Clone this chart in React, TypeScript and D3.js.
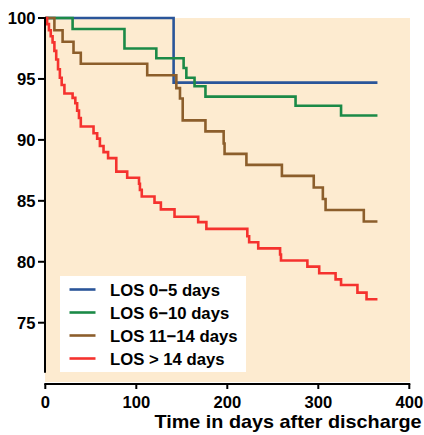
import React from "react";
import * as d3 from "d3";

const xTicks = [0, 100, 200, 300, 400];
const yTicks = [75, 80, 85, 90, 95, 100];
const seriesNames = ["LOS 0\u22125 days", "LOS 6\u221210 days", "LOS 11\u221214 days", "LOS > 14 days"];
const seriesColors = ["#2a5599", "#1b8a47", "#8c5e2b", "#f5322e"];

const blueDays = [0, 141, 365];
const blueVals = [100, 94.7, 94.7];
const greenDays = [0, 30, 87, 122, 152, 155, 164, 176, 275, 325, 365];
const greenVals = [100, 99.1, 97.5, 96.7, 95.9, 95.1, 94.4, 93.55, 92.8, 92.0, 92.0];
const brownDays = [0, 10, 19, 31, 39, 112, 144, 148, 151, 176, 196, 197, 221, 260, 295, 305, 308, 350, 365];
const brownVals = [100, 99.0, 98.05, 97.15, 96.25, 95.3, 94.25, 93.4, 91.6, 90.7, 89.7, 88.85, 87.95, 87.05, 86.1, 85.15, 84.25, 83.3, 83.3];
const redDays = [0, 2, 4, 6, 8, 10, 12, 14, 16, 18, 21, 30, 33, 35, 37, 39, 53, 57, 60, 64, 69, 78, 90, 103, 104, 106, 120, 127, 142, 168, 177, 222, 224, 234, 258, 259, 288, 301, 319, 325, 343, 353, 365];
const redVals = [100, 99.5, 99.0, 98.5, 98.0, 97.3, 96.6, 95.8, 95.1, 94.5, 93.8, 93.45, 93.0, 92.4, 91.8, 91.1, 90.55, 90.1, 89.5, 89.0, 88.5, 87.4, 86.9, 86.4, 85.9, 85.35, 84.85, 84.3, 83.7, 83.25, 82.7, 82.1, 81.6, 81.1, 80.6, 80.1, 79.6, 79.06, 78.56, 78.1, 77.47, 76.93, 76.93];

const seriesDays = [blueDays, greenDays, brownDays, redDays];
const seriesVals = [blueVals, greenVals, brownVals, redVals];

const FONT = "'Liberation Sans', Arial, Helvetica, sans-serif";

export default function App() {
  const x = d3.scaleLinear().domain([0, 400]).range([45.3, 409.3]);
  const y = d3.scaleLinear().domain([100, 70.9]).range([18, 372.7]);
  const line = d3
    .line<[number, number]>()
    .x((d) => x(d[0]))
    .y((d) => y(d[1]))
    .curve(d3.curveStepAfter);

  const axisY = 384;
  const legendX = 60;
  const legendY = 276;

  return (
    <svg
      width={424}
      height={435}
      style={{ position: "absolute", left: 0, top: 0, background: "#fff" }}
      fontFamily={FONT}
    >
      <rect x={45} y={18} width={365} height={364} fill="#fdebd0" />

      {seriesDays.map((days, i) => {
        const pts = days.map((d, j) => [d, seriesVals[i][j]] as [number, number]);
        return (
          <path
            key={i}
            d={line(pts) || ""}
            fill="none"
            stroke={seriesColors[i]}
            strokeWidth={2.6}
          />
        );
      })}

      {/* legend */}
      <rect x={legendX} y={legendY} width={186} height={96} fill="#ffffff" />
      {seriesNames.map((n, i) => (
        <g key={n}>
          <line
            x1={69.5}
            x2={95.5}
            y1={289.5 + i * 23}
            y2={289.5 + i * 23}
            stroke={seriesColors[i]}
            strokeWidth={2.6}
          />
          <text x={110} y={295.5 + i * 23} fontSize={16.7} fontWeight="bold" fill="#000">
            {n}
          </text>
        </g>
      ))}

      {/* y axis */}
      <line x1={45} x2={45} y1={y(100) - 1} y2={372.7} stroke="#000" strokeWidth={2} />
      {yTicks.map((t) => (
        <g key={t}>
          <line x1={38} x2={45} y1={y(t)} y2={y(t)} stroke="#000" strokeWidth={2} />
          <text
            x={35.5}
            y={y(t)}
            dy="0.36em"
            textAnchor="end"
            fontSize={16.6}
            fontWeight="bold"
            fill="#000"
          >
            {t}
          </text>
        </g>
      ))}

      {/* x axis */}
      <line x1={x(0) - 1} x2={x(400) + 1} y1={axisY} y2={axisY} stroke="#000" strokeWidth={2} />
      {xTicks.map((t) => (
        <g key={t}>
          <line x1={x(t)} x2={x(t)} y1={axisY} y2={axisY + 5} stroke="#000" strokeWidth={2} />
          <text x={x(t)} y={407.5} textAnchor="middle" fontSize={16.6} fontWeight="bold" fill="#000">
            {t}
          </text>
        </g>
      ))}
      <text
        x={421.5}
        y={428}
        textAnchor="end"
        fontSize={18.5}
        fontWeight="bold"
        fill="#000"
        textLength={267}
        lengthAdjust="spacingAndGlyphs"
      >
        Time in days after discharge
      </text>
    </svg>
  );
}
